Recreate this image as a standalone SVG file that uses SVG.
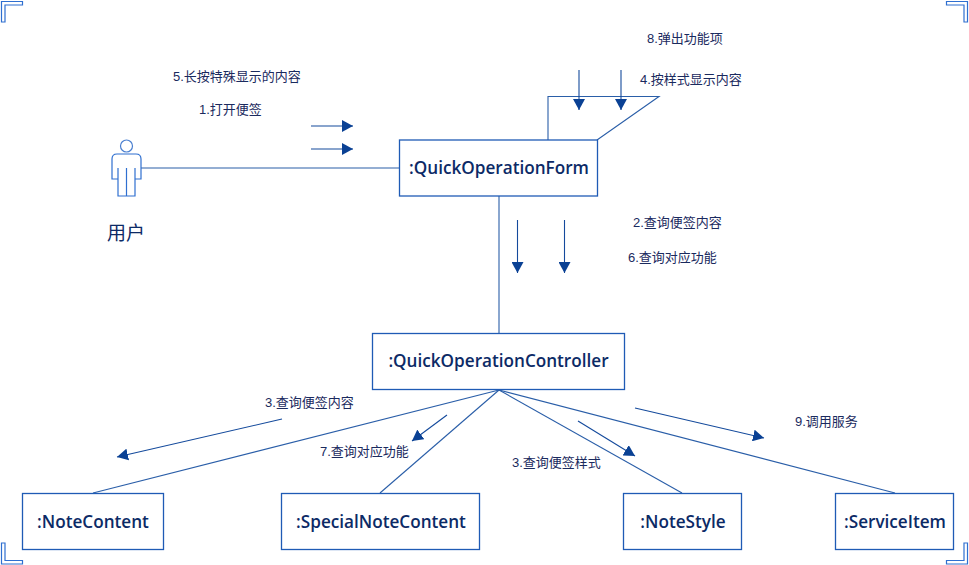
<svg xmlns="http://www.w3.org/2000/svg" width="969" height="565" viewBox="0 0 969 565">
<defs>
<marker id="a" markerUnits="userSpaceOnUse" markerWidth="12" markerHeight="12" refX="11" refY="6" orient="auto"><path d="M0 0L11 6L0 12Z" fill="#0a4194"/></marker>
</defs>
<style>
.n{fill:#fff;stroke:#1f5bb5;stroke-width:1.3}
.c{fill:none;stroke:#2a5ea8;stroke-width:1.1}
.m{fill:none;stroke:#144a9c;stroke-width:1.1;marker-end:url(#a)}
.k{fill:#fff;stroke:#2f6fd0;stroke-width:1.2}
.t{font-family:"Liberation Sans","Noto Sans CJK SC",sans-serif;font-size:13px;fill:#1a2a5e}
.b{font-family:"Open Sans","Noto Sans",sans-serif;font-size:17.150px;font-weight:600;fill:#0c2a66;text-anchor:middle}
</style>
<g id="corners">
<path class="k" d="M1.500 1.500H22.500V5H5V22H1.500Z"/>
<path class="k" d="M946.500 1.500H967.500V22H964V5H946.500Z"/>
<path class="k" d="M1.500 543H5V560.500H22.500V564H1.500Z"/>
<path class="k" d="M964 543H967.500V564H946.500V560.500H964Z"/>
</g>
<g id="connectors">
<path class="c" d="M141 168H400"/>
<path class="c" d="M548 140V96.500H659L597 140"/>
<path class="c" d="M499 196V333"/>
<path class="c" d="M499 390L93 493"/>
<path class="c" d="M499 390L380 493"/>
<path class="c" d="M499 390L682 493"/>
<path class="c" d="M499 390L895 493"/>
<path class="m" d="M311 126H353"/>
<path class="m" d="M311 149H353"/>
<path class="m" d="M579 70V110"/>
<path class="m" d="M621 70V110"/>
<path class="m" d="M517.500 220V273"/>
<path class="m" d="M564.500 220V273"/>
<path class="m" d="M282 419L117 457"/>
<path class="m" d="M447 415L412 441"/>
<path class="m" d="M578 421L635 456"/>
<path class="m" d="M635 408L764 438"/>
</g>
<g id="actor">
<circle cx="126.500" cy="146" r="6" fill="#fff" stroke="#4a7fd0" stroke-width="1.200"/>
<path d="M112 179V159Q112 154 117 154H136Q141 154 141 159V179H135V196H118V179ZM118 168V179M135 168V179M126.500 168V196" fill="#fff" stroke="#2f6fd0" stroke-width="1.200"/>
<text x="126" y="240" font-family="'Noto Sans CJK SC',sans-serif" font-size="19" fill="#0c2a66" text-anchor="middle">用户</text>
</g>
<g id="form"><rect class="n" x="399.500" y="140" width="198" height="56"/><text class="b" x="499" y="174">:QuickOperationForm</text></g>
<g id="controller"><rect class="n" x="372.500" y="333.500" width="252" height="56"/><text class="b" x="498.500" y="367">:QuickOperationController</text></g>
<g id="notecontent"><rect class="n" x="22.500" y="493.500" width="141" height="56"/><text class="b" x="93" y="528">:NoteContent</text></g>
<g id="specialnotecontent"><rect class="n" x="281.500" y="493.500" width="198" height="56"/><text class="b" x="381" y="528">:SpecialNoteContent</text></g>
<g id="notestyle"><rect class="n" x="623.500" y="493.500" width="118" height="56"/><text class="b" x="683" y="528">:NoteStyle</text></g>
<g id="serviceitem"><rect class="n" x="835.500" y="493.500" width="118" height="56"/><text class="b" x="895" y="528">:ServiceItem</text></g>
<g id="labels">
<text class="t" x="173" y="80.500">5.长按特殊显示的内容</text>
<text class="t" x="199" y="113.500">1.打开便签</text>
<text class="t" x="647" y="42.500">8.弹出功能项</text>
<text class="t" x="640" y="83.500">4.按样式显示内容</text>
<text class="t" x="633" y="226.500">2.查询便签内容</text>
<text class="t" x="628" y="261.500">6.查询对应功能</text>
<text class="t" x="265" y="406.500">3.查询便签内容</text>
<text class="t" x="320" y="455.500">7.查询对应功能</text>
<text class="t" x="512" y="466.500">3.查询便签样式</text>
<text class="t" x="795" y="425.500">9.调用服务</text>
</g>
</svg>
